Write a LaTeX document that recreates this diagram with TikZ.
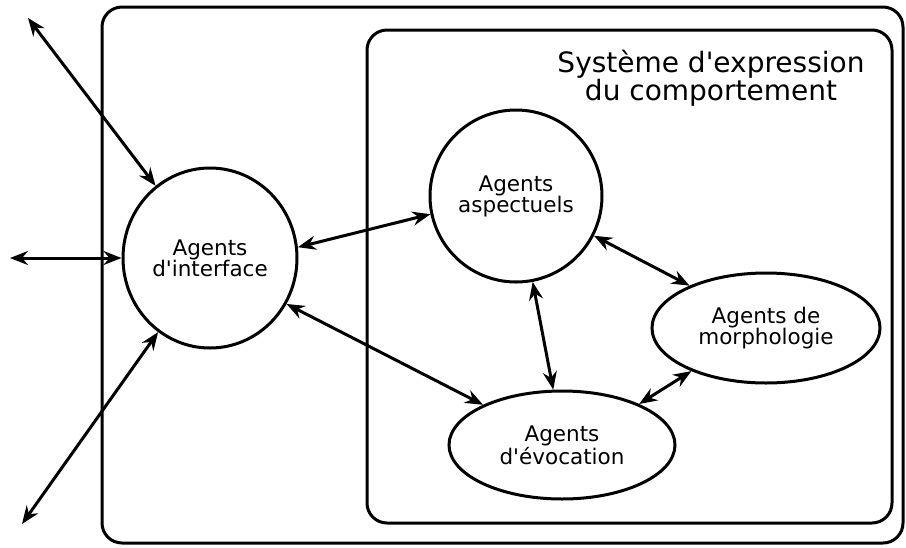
\documentclass[tikz,border=0pt]{standalone}
\usepackage{fontspec}
\setmainfont{DejaVu Sans}
\usetikzlibrary{arrows.meta,shapes.geometric}
\newcommand{\apos}{\textquotesingle}
\begin{document}
\begin{tikzpicture}[x=1pt,y=-1pt,
  frame/.style={draw=black,line width=3pt,rounded corners=20pt},
  agent/.style={draw=black,line width=3pt,ellipse,inner sep=0pt,align=center,
    font=\fontsize{21.5pt}{21pt}\selectfont},
  tip/.style={Stealth[length=18pt,width=14pt,inset=6pt]},
  link/.style={line width=3pt,{Stealth[length=18pt,width=14pt,inset=6pt]}-{Stealth[length=18pt,width=14pt,inset=6pt]}},
  title/.style={align=center,font=\fontsize{28pt}{28pt}\selectfont}]
  \useasboundingbox (0,0) rectangle (906,547);
  % frames
  \draw[frame] (102,7) rectangle (903,543);
  \draw[frame] (367,30) rectangle (892,523);
  \node[title] (ttl) at (711,78) {Système d\apos expression\\du comportement};
  % agents
  \node[agent,minimum width=174pt,minimum height=180pt] (I) at (210,258) {Agents\\d\apos interface};
  \node[agent,circle,minimum size=172pt] (A) at (516,196) {Agents\\aspectuels};
  \node[agent,minimum width=228pt,minimum height=110pt] (M) at (766,328) {Agents de\\morphologie};
  \node[agent,minimum width=226pt,minimum height=108pt] (E) at (562,445) {Agents\\d\apos évocation};
  % outside ends
  \coordinate (o1) at (28,18);
  \coordinate (o2) at (10,258);
  \coordinate (o3) at (22,524);
  % connectors
  \draw[link] (o1) -- (I.127);
  \draw[link] (o2) -- (I.180);
  \draw[link] (o3) -- (I.235);
  \draw[link] (I.7.6) -- (A.192);
  \draw[link] (I.-31.4) -- (E.153.7);
  \draw[link] (A.281) -- (E.99.8);
  \draw[link] (A.333) -- (M.151.6);
  \draw[link] (M.210.6) -- (E.28.7);
\end{tikzpicture}
\end{document}
